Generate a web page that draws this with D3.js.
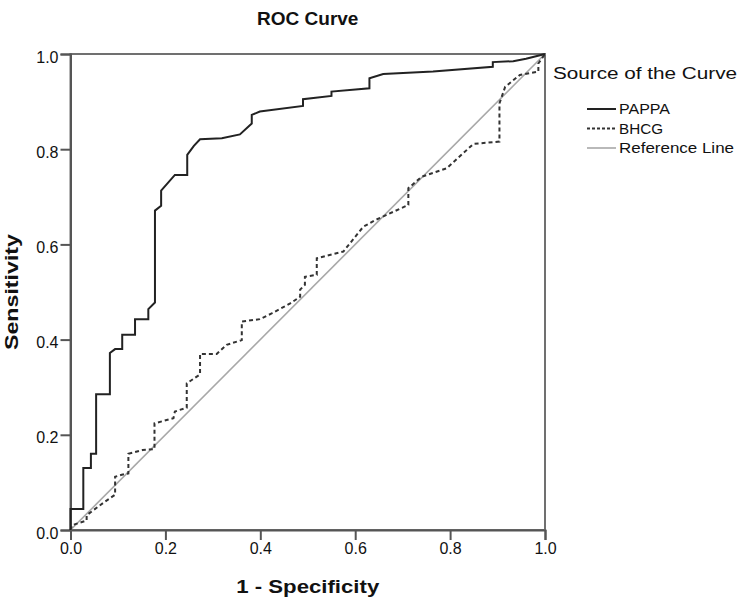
<!DOCTYPE html>
<html><head><meta charset="utf-8">
<script src="https://cdn.jsdelivr.net/npm/d3@7"></script>
<style>body{margin:0;background:#fff}svg{display:block}text{font-family:Arial,"Liberation Sans",sans-serif}</style>
</head><body>
<script>
const title = "ROC Curve";
const xLabel = "1 - Specificity";
const yLabel = "Sensitivity";
const legendTitle = "Source of the Curve";
const seriesNames = ["PAPPA", "BHCG", "Reference Line"];
const tickValues = [0, 0.2, 0.4, 0.6, 0.8, 1.0];

const pappaX = [0, 0, 0.027, 0.027, 0.043, 0.043, 0.054, 0.054, 0.083, 0.083, 0.094, 0.109, 0.109, 0.136, 0.136, 0.164, 0.164, 0.178, 0.178, 0.191, 0.191, 0.22, 0.246, 0.246, 0.26, 0.273, 0.319, 0.357, 0.382, 0.382, 0.399, 0.49, 0.49, 0.55, 0.55, 0.63, 0.63, 0.659, 0.764, 0.89, 0.89, 0.933, 0.96, 1.0];
const pappaY = [0, 0.044, 0.044, 0.13, 0.13, 0.16, 0.16, 0.285, 0.285, 0.372, 0.38, 0.38, 0.41, 0.41, 0.443, 0.443, 0.464, 0.478, 0.671, 0.681, 0.713, 0.746, 0.746, 0.788, 0.807, 0.821, 0.823, 0.831, 0.854, 0.872, 0.879, 0.891, 0.905, 0.912, 0.921, 0.928, 0.949, 0.958, 0.963, 0.973, 0.983, 0.985, 0.99, 1.0];

const bhcgX = [0, 0.003, 0.034, 0.034, 0.069, 0.094, 0.094, 0.108, 0.122, 0.122, 0.152, 0.177, 0.177, 0.217, 0.22, 0.245, 0.245, 0.273, 0.273, 0.308, 0.329, 0.361, 0.361, 0.399, 0.424, 0.463, 0.484, 0.484, 0.494, 0.494, 0.519, 0.519, 0.575, 0.617, 0.642, 0.712, 0.712, 0.74, 0.793, 0.849, 0.904, 0.904, 0.916, 0.947, 0.986, 0.986, 1.0];
const bhcgY = [0, 0.01, 0.02, 0.031, 0.057, 0.074, 0.112, 0.116, 0.119, 0.16, 0.168, 0.17, 0.224, 0.235, 0.249, 0.257, 0.308, 0.327, 0.37, 0.37, 0.389, 0.399, 0.438, 0.443, 0.455, 0.476, 0.49, 0.505, 0.515, 0.532, 0.536, 0.571, 0.585, 0.637, 0.651, 0.683, 0.718, 0.742, 0.76, 0.811, 0.816, 0.896, 0.931, 0.956, 0.963, 0.98, 1.0];

const refX = [0, 1];
const refY = [0, 1];

const W = 750, H = 603;
const svg = d3.select("body").append("svg").attr("width", W).attr("height", H);
const x = d3.scaleLinear().domain([0, 1]).range([70.5, 545]);
const y = d3.scaleLinear().domain([0, 1]).range([530, 54]);

// frame
svg.append("rect").attr("x", x(0)).attr("y", y(1)).attr("width", x(1) - x(0)).attr("height", y(0) - y(1))
  .attr("fill", "none").attr("stroke", "#707070").attr("stroke-width", 2);

const fmt = d3.format(".1f");
const gx = svg.append("g").attr("transform", `translate(0,${y(0)})`)
  .call(d3.axisBottom(x).tickValues(tickValues).tickFormat(fmt).tickSize(10).tickPadding(3));
const gy = svg.append("g").attr("transform", `translate(${x(0)},0)`)
  .call(d3.axisLeft(y).tickValues(tickValues).tickFormat(fmt).tickSize(10).tickPadding(2));
[gx, gy].forEach(g => {
  g.select(".domain").attr("stroke", "#555").attr("stroke-width", 2);
  g.selectAll(".tick line").attr("stroke", "#555").attr("stroke-width", 2);
  g.selectAll(".tick text").attr("font-size", 16).attr("fill", "#111").attr("font-family", "Arial, 'Liberation Sans', sans-serif");
});
gy.selectAll(".tick text").attr("dy", "0.5em");

const line = d3.line().x(d => x(d[0])).y(d => y(d[1]));
const plot = svg.append("g");
plot.append("path").datum(d3.zip(refX, refY)).attr("d", line)
  .attr("fill", "none").attr("stroke", "#a8a8a8").attr("stroke-width", 1.6);
plot.append("path").datum(d3.zip(bhcgX, bhcgY)).attr("d", line)
  .attr("fill", "none").attr("stroke", "#333").attr("stroke-width", 2).attr("stroke-dasharray", "4,3");
plot.append("path").datum(d3.zip(pappaX, pappaY)).attr("d", line)
  .attr("fill", "none").attr("stroke", "#222").attr("stroke-width", 2);

svg.append("text").attr("x", (x(0) + x(1)) / 2).attr("y", 25).attr("text-anchor", "middle")
  .attr("font-size", 19).attr("font-weight", "bold").attr("fill", "#111").text(title);
svg.append("text").attr("x", (x(0) + x(1)) / 2).attr("y", 593).attr("text-anchor", "middle")
  .attr("font-size", 19).attr("font-weight", "bold").attr("fill", "#111")
  .attr("textLength", 143).attr("lengthAdjust", "spacingAndGlyphs").text(xLabel);
svg.append("text").attr("transform", `translate(18,292) rotate(-90)`).attr("text-anchor", "middle")
  .attr("font-size", 18).attr("font-weight", "bold").attr("fill", "#111")
  .attr("textLength", 116).attr("lengthAdjust", "spacingAndGlyphs").text(yLabel);

// legend
const lg = svg.append("g");
lg.append("text").attr("x", 553).attr("y", 79).attr("font-size", 16).attr("fill", "#111")
  .attr("textLength", 184).attr("lengthAdjust", "spacingAndGlyphs").text(legendTitle);
const styles = [
  {stroke: "#222", dash: null, w: 2},
  {stroke: "#333", dash: "3,2", w: 2},
  {stroke: "#a8a8a8", dash: null, w: 1.6}
];
const legendLens = [51, 44, 115];
seriesNames.forEach((n, i) => {
  const yy = 109 + i * 19.5;
  lg.append("line").attr("x1", 587).attr("x2", 616).attr("y1", yy).attr("y2", yy)
    .attr("stroke", styles[i].stroke).attr("stroke-width", styles[i].w).attr("stroke-dasharray", styles[i].dash);
  lg.append("text").attr("x", 619).attr("y", yy).attr("dy", "0.36em").attr("font-size", 14).attr("fill", "#111")
    .attr("textLength", legendLens[i]).attr("lengthAdjust", "spacingAndGlyphs").text(n);
});
</script>
</body></html>
